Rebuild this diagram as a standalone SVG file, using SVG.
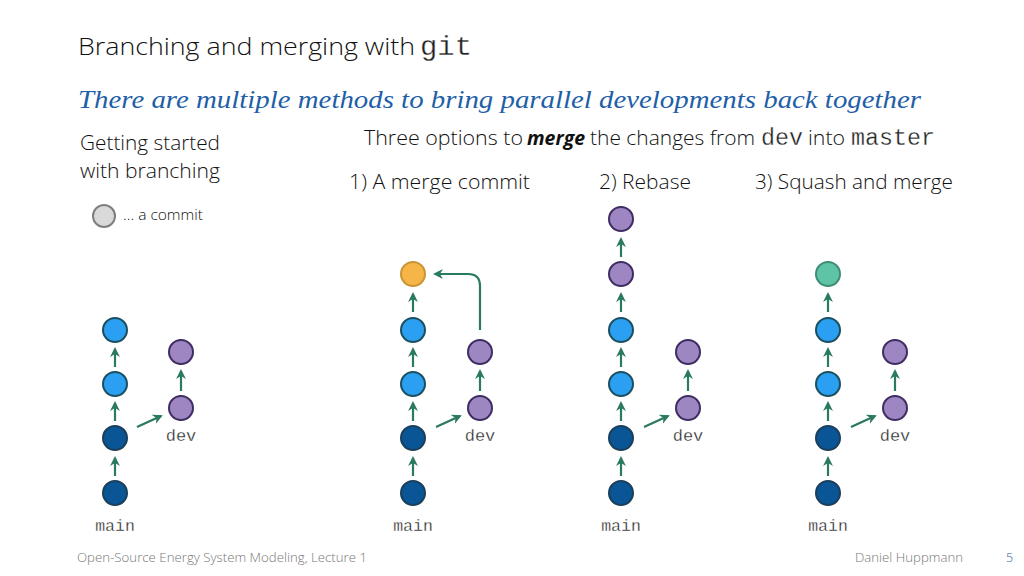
<svg xmlns="http://www.w3.org/2000/svg" width="1024" height="576" viewBox="0 0 1024 576">
<defs>
<marker id="ah" viewBox="0 0 10 10" refX="8" refY="5" markerWidth="4.5" markerHeight="4.5" markerUnits="strokeWidth" orient="auto">
<path d="M0,0 L10,5 L0,10 L3,5 z" fill="#2A7A60"/>
</marker>
<style>
.t{font-family:"Open Sans","Liberation Sans",sans-serif;font-weight:300;fill:#111}
.m{font-family:"Liberation Mono","DejaVu Sans Mono",monospace;font-weight:normal;fill:#222;stroke:#fff;stroke-width:0.3px}
.c{stroke-width:2}
.db{fill:#0A5596;stroke:#1B3F5A}
.lb{fill:#2BA0F2;stroke:#1B4F5F}
.pu{fill:#9E86C2;stroke:#3E2C63}
.or{fill:#F5B547;stroke:#C99535}
.tl{fill:#5FC3A5;stroke:#3E8E75}
.a{stroke:#2A7A60;stroke-width:2.2;fill:none;marker-end:url(#ah)}
.f{font-family:"Open Sans","Liberation Sans",sans-serif;font-weight:300;font-size:12.5px;fill:#777}
</style>
</defs>
<rect width="1024" height="576" fill="#fff"/>
<g id="titles">
<text x="78" y="55" class="t" font-size="24" textLength="337" lengthAdjust="spacingAndGlyphs">Branching and merging with</text>
<text x="420" y="55" class="m" font-size="28" textLength="52" lengthAdjust="spacingAndGlyphs">git</text>
<text x="78" y="108" font-family="'Liberation Serif',serif" font-style="italic" font-size="25" fill="#1F5FA8" textLength="843" lengthAdjust="spacingAndGlyphs">There are multiple methods to bring parallel developments back together</text>
<text x="80" y="150" class="t" font-size="20" textLength="140" lengthAdjust="spacingAndGlyphs">Getting started</text>
<text x="80" y="178" class="t" font-size="20" textLength="140" lengthAdjust="spacingAndGlyphs">with branching</text>
<text x="364" y="145" class="t" font-size="20" textLength="159" lengthAdjust="spacingAndGlyphs">Three options to</text>
<text x="527" y="145" class="t" font-size="20" font-style="italic" style="font-weight:bold" textLength="58" lengthAdjust="spacingAndGlyphs">merge</text>
<text x="590" y="145" class="t" font-size="20" textLength="165" lengthAdjust="spacingAndGlyphs">the changes from</text>
<text x="761" y="145" class="m" font-size="23" textLength="42" lengthAdjust="spacingAndGlyphs">dev</text>
<text x="808" y="145" class="t" font-size="20" textLength="37" lengthAdjust="spacingAndGlyphs">into</text>
<text x="851" y="145" class="m" font-size="23" textLength="84" lengthAdjust="spacingAndGlyphs">master</text>
<text x="349" y="189" class="t" font-size="20" textLength="181" lengthAdjust="spacingAndGlyphs">1) A merge commit</text>
<text x="599" y="189" class="t" font-size="20" textLength="92" lengthAdjust="spacingAndGlyphs">2) Rebase</text>
<text x="755" y="189" class="t" font-size="20" textLength="198" lengthAdjust="spacingAndGlyphs">3) Squash and merge</text>
</g>
<g id="legend">
<circle cx="104" cy="216" r="11" fill="#D9D9D9" stroke="#7F7F7F" stroke-width="2"/>
<text x="123" y="220" class="t" font-size="14" textLength="80" lengthAdjust="spacingAndGlyphs">... a commit</text>
</g>
<g id="connectors">
<path class="a" d="M115,476 V458"/><path class="a" d="M115,421 V403"/><path class="a" d="M115,367 V349"/>
<path class="a" d="M181,391 V371"/><path class="a" d="M137,427 L161,416"/>
<path class="a" d="M413,476 V458"/><path class="a" d="M413,421 V403"/><path class="a" d="M413,367 V349"/><path class="a" d="M413,312 V294"/>
<path class="a" d="M480,391 V371"/><path class="a" d="M436,427 L460,416"/>
<path class="a" d="M480,330 V286 Q480,274 468,274 H435"/>
<path class="a" d="M621,476 V458"/><path class="a" d="M621,421 V403"/><path class="a" d="M621,367 V349"/><path class="a" d="M621,312 V294"/><path class="a" d="M621,257 V239"/>
<path class="a" d="M688,391 V371"/><path class="a" d="M644,427 L668,416"/>
<path class="a" d="M828,476 V458"/><path class="a" d="M828,421 V403"/><path class="a" d="M828,367 V349"/><path class="a" d="M828,312 V294"/>
<path class="a" d="M895,391 V371"/><path class="a" d="M851,427 L875,416"/>
</g>
<g id="panel1">
<circle class="c lb" cx="115" cy="330" r="12"/><circle class="c lb" cx="115" cy="384" r="12"/>
<circle class="c db" cx="115" cy="438" r="12"/><circle class="c db" cx="115" cy="493" r="12"/>
<circle class="c pu" cx="181" cy="352" r="12"/><circle class="c pu" cx="181" cy="408" r="12"/>
<text x="181" y="441" class="m" font-size="17" text-anchor="middle">dev</text>
<text x="115" y="531" class="m" font-size="16.5" text-anchor="middle">main</text>
</g>
<g id="panel2">
<circle class="c or" cx="413" cy="274" r="12"/>
<circle class="c lb" cx="413" cy="330" r="12"/><circle class="c lb" cx="413" cy="384" r="12"/>
<circle class="c db" cx="413" cy="438" r="12"/><circle class="c db" cx="413" cy="493" r="12"/>
<circle class="c pu" cx="480" cy="352" r="12"/><circle class="c pu" cx="480" cy="408" r="12"/>
<text x="480" y="441" class="m" font-size="17" text-anchor="middle">dev</text>
<text x="413" y="531" class="m" font-size="16.5" text-anchor="middle">main</text>
</g>
<g id="panel3">
<circle class="c pu" cx="621" cy="219" r="12"/><circle class="c pu" cx="621" cy="274" r="12"/>
<circle class="c lb" cx="621" cy="330" r="12"/><circle class="c lb" cx="621" cy="384" r="12"/>
<circle class="c db" cx="621" cy="438" r="12"/><circle class="c db" cx="621" cy="493" r="12"/>
<circle class="c pu" cx="688" cy="352" r="12"/><circle class="c pu" cx="688" cy="408" r="12"/>
<text x="688" y="441" class="m" font-size="17" text-anchor="middle">dev</text>
<text x="621" y="531" class="m" font-size="16.5" text-anchor="middle">main</text>
</g>
<g id="panel4">
<circle class="c tl" cx="828" cy="274" r="12"/>
<circle class="c lb" cx="828" cy="330" r="12"/><circle class="c lb" cx="828" cy="384" r="12"/>
<circle class="c db" cx="828" cy="438" r="12"/><circle class="c db" cx="828" cy="493" r="12"/>
<circle class="c pu" cx="895" cy="352" r="12"/><circle class="c pu" cx="895" cy="408" r="12"/>
<text x="895" y="441" class="m" font-size="17" text-anchor="middle">dev</text>
<text x="828" y="531" class="m" font-size="16.5" text-anchor="middle">main</text>
</g>
<g id="footer">
<text x="77" y="562" class="f" textLength="290" lengthAdjust="spacingAndGlyphs">Open-Source Energy System Modeling, Lecture 1</text>
<text x="855" y="562" class="f" textLength="108" lengthAdjust="spacingAndGlyphs">Daniel Huppmann</text>
<text x="1006" y="562" class="f" style="fill:#3B5BA5">5</text>
</g>
</svg>
